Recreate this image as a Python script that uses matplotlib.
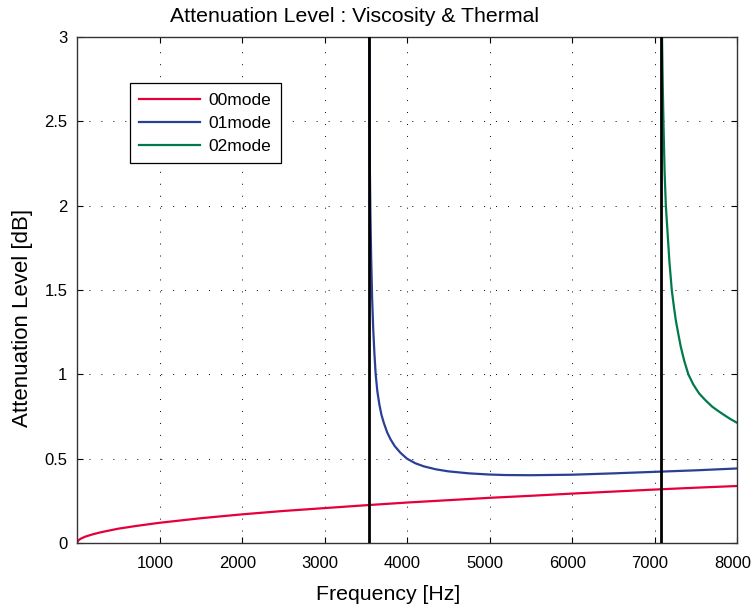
import numpy as np
import matplotlib
matplotlib.use('Agg')
import matplotlib.pyplot as plt
import matplotlib.transforms as mtransforms

# values
f00 = [0, 10, 25, 50, 100, 200, 300, 400, 500, 700, 1000, 1500, 2000, 2500, 3000,
       3500, 4000, 4500, 5000, 5500, 6000, 6500, 7000, 7500, 8000]
a00 = [0.0, 0.012, 0.019, 0.027, 0.038, 0.053, 0.065, 0.075, 0.085, 0.100, 0.120,
       0.147, 0.170, 0.190, 0.207, 0.224, 0.240, 0.254, 0.268, 0.280, 0.293, 0.305,
       0.317, 0.328, 0.338]

f01 = [3541, 3543, 3546, 3550, 3556, 3565, 3577, 3590, 3605, 3620, 3640, 3665,
       3690, 3720, 3760, 3800, 3850, 3920, 4000, 4100, 4200, 4350, 4500, 4750,
       5000, 5200, 5500, 6000, 6500, 7000, 7500, 8000]
a01 = [3.2, 2.9, 2.5, 2.2, 1.95, 1.7, 1.45, 1.27, 1.12, 1.0, 0.9, 0.82,
       0.76, 0.71, 0.655, 0.615, 0.575, 0.535, 0.50, 0.473, 0.455, 0.437, 0.425,
       0.413, 0.406, 0.403, 0.402, 0.405, 0.413, 0.422, 0.431, 0.442]

f02 = [7085, 7092, 7100, 7110, 7122, 7137, 7156, 7180, 7209, 7235, 7258, 7288,
       7318, 7360, 7410, 7470, 7540, 7620, 7700, 7780, 7850, 7920, 8000]
a02 = [3.2, 2.95, 2.7, 2.45, 2.2, 2.0, 1.855, 1.67, 1.5, 1.4, 1.32, 1.24,
       1.164, 1.08, 1.0, 0.94, 0.887, 0.845, 0.808, 0.78, 0.757, 0.735, 0.713]

cutoffs = [3540, 7080]

xticks = [1000, 2000, 3000, 4000, 5000, 6000, 7000, 8000]
yticks = [0, 0.5, 1, 1.5, 2, 2.5, 3]
ylabels = ['0', '0.5', '1', '1.5', '2', '2.5', '3']

plt.rcParams['font.family'] = ['Liberation Sans', 'DejaVu Sans']

fig = plt.figure(figsize=(7.53, 6.10), dpi=100)
ax = fig.add_axes([0.1023, 0.1098, 0.8765, 0.8295])

ax.plot(f00, a00, color='#e5003c', lw=1.6, label='00mode')
ax.plot(f01, a01, color='#2a4096', lw=1.6, label='01mode')
ax.plot(f02, a02, color='#007a4a', lw=1.6, label='02mode')
for fc in cutoffs:
    ax.plot([fc, fc], [0, 3], color='black', lw=2.0, zorder=3)

ax.set_xlim(0, 8000)
ax.set_ylim(0, 3)
ax.set_xticks(xticks)
ax.set_yticks(yticks)
ax.set_yticklabels(ylabels)
ax.tick_params(direction='in', top=True, right=True, length=4.5, width=0.8,
               labelsize=12, colors='black')
ax.tick_params(axis='x', pad=9.5)
ax.tick_params(axis='y', pad=7)
# matlab puts the x labels a few pixels left of the ticks
shift = mtransforms.ScaledTranslation(-4.5 / 100, 0, fig.dpi_scale_trans)
for lab in ax.get_xticklabels():
    lab.set_transform(lab.get_transform() + shift)
ax.grid(True, color='black', lw=0.7, linestyle=(0, (1, 11.3)))
for s in ax.spines.values():
    s.set_linewidth(1.0)
    s.set_color('#333333')

ax.set_title('Attenuation Level : Viscosity & Thermal', fontsize=15.3, x=0.421, y=1.0, pad=11)
ax.set_xlabel('Frequency [Hz]', fontsize=15.3)
ax.xaxis.set_label_coords(0.471, -0.083)
ax.set_ylabel('Attenuation Level [dB]', fontsize=16)
ax.yaxis.set_label_coords(-0.0667, 0.445)

leg = ax.legend(loc='upper left', bbox_to_anchor=(0.08, 0.909), fontsize=12.5,
                handlelength=3.5, fancybox=False, framealpha=1, borderpad=0.55,
                labelspacing=0.45, handletextpad=0.5, borderaxespad=0)
leg.get_frame().set_edgecolor('black')
leg.get_frame().set_linewidth(0.9)

fig.savefig('out.png', dpi=100)
